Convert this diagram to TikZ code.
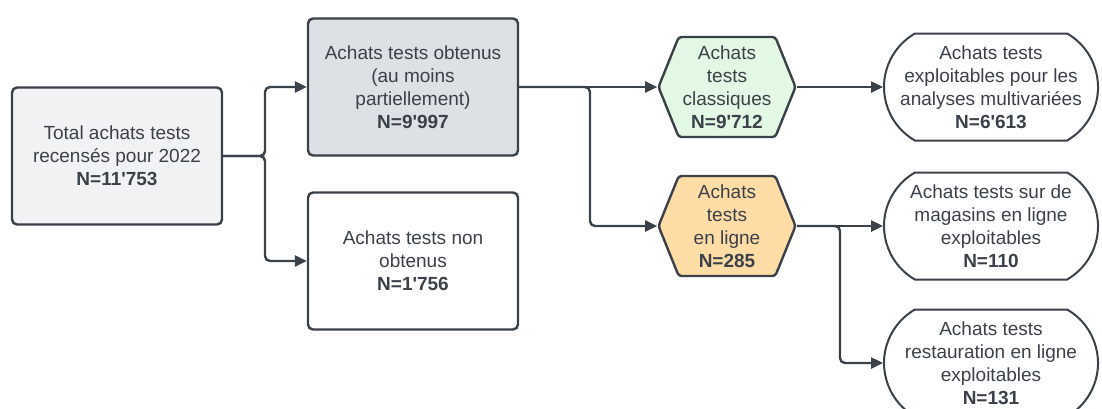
\documentclass[tikz,border=0pt]{standalone}
\usepackage{fontspec}
\setmainfont{Liberation Sans}[Ligatures=TeXOff]
\usetikzlibrary{arrows.meta,shapes.symbols,shapes.misc}
\definecolor{ink}{HTML}{3B4149}
\definecolor{boxlight}{HTML}{F1F2F4}
\definecolor{boxgray}{HTML}{DDE0E5}
\definecolor{hexgreen}{HTML}{E3F8E4}
\definecolor{hexorange}{HTML}{FEDCA6}
\tikzset{
  every node/.style={text=ink, align=center, font=\fontsize{19}{23}\selectfont},
  stepbox/.style={draw=ink, line width=2.4pt, rounded corners=5pt,
    minimum width=210pt, minimum height=137pt, inner sep=0pt},
  hexa/.style={draw=ink, line width=2.4pt, signal, signal to=west and east,
    signal pointer angle=136, minimum width=137pt, minimum height=100pt,
    inner sep=0pt, rounded corners=3pt},
  pill/.style={draw=ink, line width=2pt, rounded rectangle,
    rounded rectangle arc length=120, minimum width=214pt,
    minimum height=107pt, inner sep=0pt},
  link/.style={draw=ink, line width=2.4pt, rounded corners=5pt,
    -{Triangle[length=12pt,width=11pt]}}
}

\begin{document}
\begin{tikzpicture}[x=1pt,y=-1pt]
  \useasboundingbox (0,0) rectangle (1102,408);
  \node[stepbox, fill=boxlight] (total) at (117,156) {Total achats tests\\recensés pour 2022\\\textbf{N=11'753}};
  \node[stepbox, fill=boxgray] (obt) at (413,87) {Achats tests obtenus\\(au moins\\partiellement)\\\textbf{N=9'997}};
  \node[stepbox, fill=white] (nonobt) at (413,261) {Achats tests non\\obtenus\\\textbf{N=1'756}};
  \node[hexa, fill=hexgreen] (classic) at (727,87) {Achats\\tests\\classiques\\\textbf{N=9'712}};
  \node[hexa, fill=hexorange] (online) at (727,226) {Achats\\tests\\en ligne\\\textbf{N=285}};
  \node[pill] (multi) at (991,87) {Achats tests\\exploitables pour les\\analyses multivariées\\\textbf{N=6'613}};
  \node[pill] (shops) at (991,226) {Achats tests sur de\\magasins en ligne\\exploitables\\\textbf{N=110}};
  \node[pill] (resto) at (991,363) {Achats tests\\restauration en ligne\\exploitables\\\textbf{N=131}};
  \coordinate (j1) at (265,156);
  \coordinate (j2) at (590,87);
  \coordinate (j3) at (840,226);
  \draw[link] (total.east) -- (j1) |- (obt.west);
  \draw[link] (total.east) -- (j1) |- (nonobt.west);
  \draw[link] (obt.east) -- (classic.west);
  \draw[link] (obt.east) -- (j2) |- (online.west);
  \draw[link] (classic.east) -- (multi.west);
  \draw[link] (online.east) -- (shops.west);
  \draw[link] (online.east) -- (j3) |- (resto.west);
\end{tikzpicture}
\end{document}
